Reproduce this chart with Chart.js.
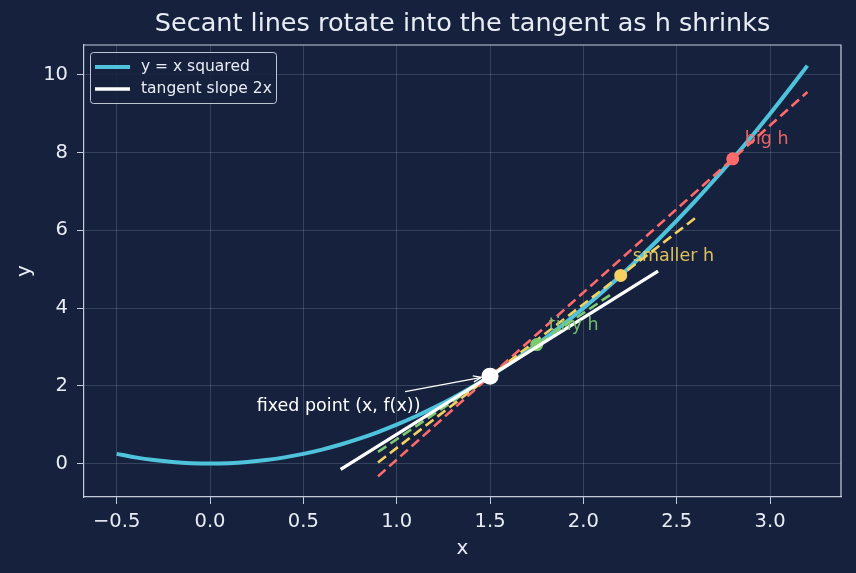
<!DOCTYPE html>
<html>
<head>
<meta charset="utf-8">
<script src="https://cdn.jsdelivr.net/npm/chart.js@4.4.1/dist/chart.umd.min.js"></script>
<style>
  html, body { margin: 0; padding: 0; background: #16213e; }
  #wrap { width: 856px; height: 573px; }
</style>
</head>
<body>
<div id="wrap"><canvas id="chart" width="856" height="573"></canvas></div>
<script>
// y = x squared, sampled every 0.1
const curveX = [-0.5, -0.4, -0.3, -0.2, -0.1, 0.0, 0.1, 0.2, 0.3, 0.4, 0.5, 0.6, 0.7, 0.8, 0.9,
  1.0, 1.1, 1.2, 1.3, 1.4, 1.5, 1.6, 1.7, 1.8, 1.9, 2.0, 2.1, 2.2, 2.3, 2.4, 2.5, 2.6, 2.7,
  2.8, 2.9, 3.0, 3.1, 3.2];
const curveY = [0.25, 0.16, 0.09, 0.04, 0.01, 0.0, 0.01, 0.04, 0.09, 0.16, 0.25, 0.36, 0.49, 0.64, 0.81,
  1.0, 1.21, 1.44, 1.69, 1.96, 2.25, 2.56, 2.89, 3.24, 3.61, 4.0, 4.41, 4.84, 5.29, 5.76, 6.25, 6.76, 7.29,
  7.84, 8.41, 9.0, 9.61, 10.24];

// tangent at x = 1.5 (slope 3)
const tangentX = [0.7, 2.4];
const tangentY = [-0.15, 4.95];

// secant segments (start, end)
const secantNames = ["big h", "smaller h", "tiny h"];
const secantX = [[0.9, 3.2], [0.9, 2.6], [0.9, 2.15]];
const secantY = [[-0.33, 9.56], [0.03, 6.32], [0.3, 4.36]];
const secantPointX = [2.8, 2.2, 1.75];
const secantPointY = [7.84, 4.84, 3.0625];
const secantColors = ["#ff6b6b", "#f4d160", "#7dcb6f"];

const fixedX = 1.5;
const fixedY = 2.25;

const xTicks = [-0.5, 0.0, 0.5, 1.0, 1.5, 2.0, 2.5, 3.0];
const yTicks = [0, 2, 4, 6, 8, 10];

const titleText = "Secant lines rotate into the tangent as h shrinks";
const textColor = "#e8ecf4";
const frameColor = "rgba(215,222,236,0.9)";
const font = "DejaVu Sans";

const toPoints = (xs, ys) => xs.map((x, i) => ({ x: x, y: ys[i] }));

const datasets = [
  {
    label: "y = x squared",
    data: toPoints(curveX, curveY),
    borderColor: "#4fc3dc",
    borderWidth: 4,
    pointRadius: 0,
    showLine: true,
    cubicInterpolationMode: "monotone",
    order: 5,
  },
  {
    label: "tangent slope 2x",
    data: toPoints(tangentX, tangentY),
    borderColor: "#ffffff",
    borderWidth: 3.3,
    pointRadius: 0,
    showLine: true,
    order: 1,
  },
];

secantNames.forEach((name, i) => {
  datasets.push({
    label: name + " secant",
    data: toPoints(secantX[i], secantY[i]),
    borderColor: secantColors[i],
    borderWidth: 2.6,
    borderDash: [10, 5],
    pointRadius: 0,
    showLine: true,
    order: 3,
  });
  datasets.push({
    label: name,
    data: [{ x: secantPointX[i], y: secantPointY[i] }],
    backgroundColor: secantColors[i],
    borderWidth: 0,
    pointRadius: 6.5,
    showLine: false,
    order: 2,
  });
});

datasets.push({
  label: "fixed point",
  data: [{ x: fixedX, y: fixedY }],
  backgroundColor: "#ffffff",
  borderWidth: 0,
  pointRadius: 8.5,
  showLine: false,
  order: 0,
});

const overlay = {
  id: "overlay",
  afterDraw(chart) {
    const ctx = chart.ctx;
    const xs = chart.scales.x;
    const ys = chart.scales.y;
    const area = chart.chartArea;
    ctx.save();

    // title centred over the plot area
    ctx.fillStyle = textColor;
    ctx.font = "25.5px '" + font + "'";
    ctx.textAlign = "center";
    ctx.textBaseline = "middle";
    ctx.fillText(titleText, (area.left + area.right) / 2, 24);

    // top and right frame lines
    ctx.strokeStyle = frameColor;
    ctx.lineWidth = 1.2;
    ctx.beginPath();
    ctx.moveTo(area.left, area.top);
    ctx.lineTo(area.right, area.top);
    ctx.lineTo(area.right, area.bottom);
    ctx.stroke();

    // labels next to secant points
    ctx.font = "17.5px '" + font + "'";
    ctx.textAlign = "left";
    secantNames.forEach((name, i) => {
      ctx.fillStyle = secantColors[i];
      ctx.globalAlpha = 0.9;
      ctx.fillText(name, xs.getPixelForValue(secantPointX[i] + 0.065), ys.getPixelForValue(secantPointY[i] + 0.5));
    });
    ctx.globalAlpha = 1;

    // annotation with arrow
    ctx.fillStyle = "#ffffff";
    ctx.fillText("fixed point (x, f(x))", xs.getPixelForValue(0.25), ys.getPixelForValue(1.48));
    const ax0 = xs.getPixelForValue(1.045), ay0 = ys.getPixelForValue(1.85);
    const ax1 = xs.getPixelForValue(1.455), ay1 = ys.getPixelForValue(2.22);
    ctx.strokeStyle = "#ffffff";
    ctx.lineWidth = 1.3;
    ctx.beginPath();
    ctx.moveTo(ax0, ay0);
    ctx.lineTo(ax1, ay1);
    ctx.stroke();
    const ang = Math.atan2(ay1 - ay0, ax1 - ax0);
    ctx.beginPath();
    ctx.moveTo(ax1, ay1);
    ctx.lineTo(ax1 - 9 * Math.cos(ang - 0.35), ay1 - 9 * Math.sin(ang - 0.35));
    ctx.moveTo(ax1, ay1);
    ctx.lineTo(ax1 - 9 * Math.cos(ang + 0.35), ay1 - 9 * Math.sin(ang + 0.35));
    ctx.stroke();

    // legend box, upper left
    const bx = area.left + 6, by = area.top + 7, bw = 186, bh = 51;
    ctx.fillStyle = "rgba(22,33,62,0.85)";
    ctx.strokeStyle = "rgba(220,226,238,0.85)";
    ctx.lineWidth = 1;
    ctx.beginPath();
    ctx.roundRect(bx + 0.5, by + 0.5, bw, bh, 3);
    ctx.fill();
    ctx.stroke();
    ctx.font = "15.5px '" + font + "'";
    [0, 1].forEach((k) => {
      const ds = chart.data.datasets[k];
      const ly = by + 15 + k * 22;
      ctx.strokeStyle = ds.borderColor;
      ctx.lineWidth = ds.borderWidth;
      ctx.beginPath();
      ctx.moveTo(bx + 5, ly);
      ctx.lineTo(bx + 40, ly);
      ctx.stroke();
      ctx.fillStyle = textColor;
      ctx.fillText(ds.label, bx + 51, ly);
    });

    ctx.restore();
  },
};

const minusFmt = (v, digits) => {
  const s = Number(v).toFixed(digits);
  return s.replace("-", "\u2212");
};

new Chart(document.getElementById("chart"), {
  type: "scatter",
  data: { datasets: datasets },
  options: {
    responsive: false,
    animation: false,
    layout: { padding: { left: 0, right: 15, top: 45, bottom: 0 } },
    plugins: {
      legend: { display: false },
      tooltip: { enabled: false },
      title: { display: false },
    },
    scales: {
      x: {
        type: "linear",
        min: -0.675,
        max: 3.38,
        afterBuildTicks: (axis) => { axis.ticks = xTicks.map((v) => ({ value: v })); },
        afterFit: (axis) => { axis.height = 76; },
        ticks: {
          color: textColor,
          font: { family: font, size: 19.5 },
          padding: 6,
          callback: (v) => minusFmt(v, 1),
        },
        grid: { color: "rgba(200,210,230,0.18)", tickColor: frameColor, tickLength: 7 },
        border: { color: frameColor, width: 1.2 },
        title: { display: true, text: "x", color: textColor, font: { family: font, size: 20 }, padding: { top: 4, bottom: 12 } },
      },
      y: {
        type: "linear",
        min: -0.86,
        max: 10.77,
        afterBuildTicks: (axis) => { axis.ticks = yTicks.map((v) => ({ value: v })); },
        afterFit: (axis) => { axis.width = 84; },
        ticks: {
          color: textColor,
          font: { family: font, size: 19.5 },
          padding: 9,
          callback: (v) => minusFmt(v, 0),
        },
        grid: { color: "rgba(200,210,230,0.18)", tickColor: frameColor, tickLength: 7 },
        border: { color: frameColor, width: 1.2 },
        title: { display: true, text: "y", color: textColor, font: { family: font, size: 20 }, padding: { top: 13, bottom: 4 } },
      },
    },
  },
  plugins: [overlay],
});
</script>
</body>
</html>
